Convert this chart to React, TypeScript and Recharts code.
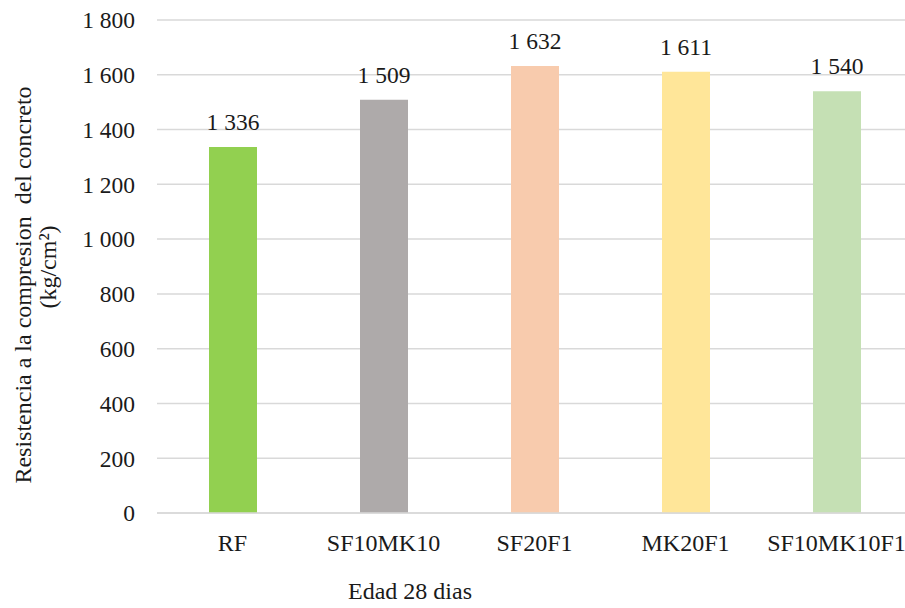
import React from 'react';
import { BarChart, Bar, XAxis, YAxis, CartesianGrid, Cell, LabelList } from 'recharts';

const categories = ['RF', 'SF10MK10', 'SF20F1', 'MK20F1', 'SF10MK10F1'];
const resistencia = [1336, 1509, 1632, 1611, 1540];
const barColors = ['#92D050', '#AEAAAA', '#F8CBAD', '#FFE699', '#C5E0B4'];
const yTicks = [0, 200, 400, 600, 800, 1000, 1200, 1400, 1600, 1800];

const data = categories.map((name, i) => ({ name, value: resistencia[i] }));

const FONT = 'Liberation Serif, Times New Roman, DejaVu Serif, serif';
const TEXT = '#1a1a1a';

// 1336 -> "1 336"
const fmt = (v: number) => String(v).replace(/\B(?=(\d{3})+(?!\d))/g, ' ');

const App: React.FC = () => {
  return (
    <div style={{ position: 'absolute', left: 0, top: 0, width: 905, height: 608, overflow: 'hidden', background: '#fff', fontFamily: FONT }}>
      <BarChart
        width={912}
        height={608}
        data={data}
        margin={{ top: 20, right: 0, bottom: 55, left: 0 }}
        style={{ fontFamily: FONT }}
      >
        <CartesianGrid vertical={false} stroke="#D9D9D9" strokeWidth={1.5} />
        <XAxis
          dataKey="name"
          height={40}
          axisLine={{ stroke: '#D9D9D9', strokeWidth: 1.5 }}
          tickLine={false}
          tickSize={0}
          tickMargin={21}
          interval={0}
          tick={{ fill: TEXT, fontSize: 24, fontFamily: FONT }}
        />
        <YAxis
          width={157}
          domain={[0, 1800]}
          ticks={yTicks}
          axisLine={false}
          tickLine={false}
          tickSize={0}
          tickMargin={22}
          tickFormatter={fmt}
          tick={{ fill: TEXT, fontSize: 23.5, fontFamily: FONT }}
        />
        <Bar dataKey="value" barSize={48} isAnimationActive={false}>
          {data.map((d, i) => (
            <Cell key={d.name} fill={barColors[i]} />
          ))}
          <LabelList
            dataKey="value"
            position="top"
            offset={17}
            formatter={(v: any) => fmt(Number(v))}
            fill={TEXT}
            fontSize={23.5}
            fontFamily={FONT}
          />
        </Bar>
      </BarChart>

      {/* y axis title, two rotated lines */}
      <div
        style={{
          position: 'absolute', left: 23, top: 285, width: 500, marginLeft: -250,
          transform: 'translateY(-50%) rotate(-90deg)', textAlign: 'center',
          fontSize: 24, color: TEXT, whiteSpace: 'pre', lineHeight: '28px',
        }}
      >
        Resistencia a la compresion  del concreto
      </div>
      <div
        style={{
          position: 'absolute', left: 48, top: 267, width: 200, marginLeft: -100,
          transform: 'translateY(-50%) rotate(-90deg)', textAlign: 'center',
          fontSize: 24, color: TEXT, lineHeight: '28px',
        }}
      >
        (kg/cm²)
      </div>

      {/* x axis title */}
      <div
        style={{
          position: 'absolute', left: 410, top: 591, width: 300, marginLeft: -150,
          transform: 'translateY(-50%)', textAlign: 'center',
          fontSize: 24, color: TEXT, lineHeight: '28px',
        }}
      >
        Edad 28 dias
      </div>
    </div>
  );
};

export default App;
